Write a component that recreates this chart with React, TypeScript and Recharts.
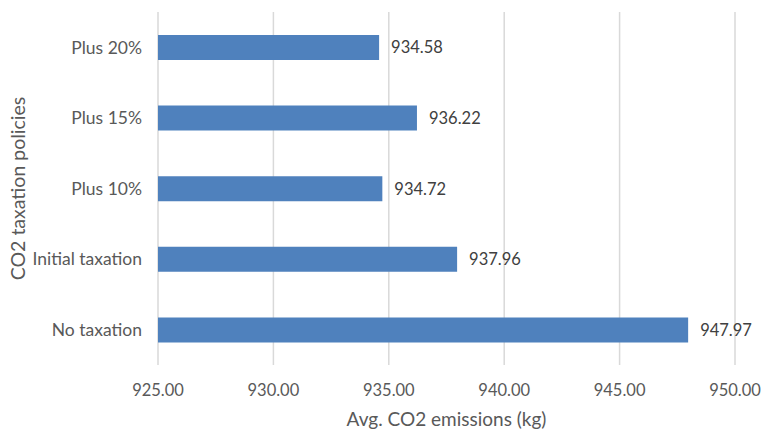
import React from "react";
import { BarChart, Bar, XAxis, YAxis, CartesianGrid, LabelList, Label } from "recharts";

const categories = ["Plus 20%", "Plus 15%", "Plus 10%", "Initial taxation", "No taxation"];
const emissions = [934.58, 936.22, 934.72, 937.96, 947.97];
const xTicks = [925, 930, 935, 940, 945, 950];

const data = categories.map((name, i) => ({ name, value: emissions[i] }));

const FONT = "Lato, 'Open Sans', sans-serif";
const TXT = "#595959";

const YTitle = (props: any) => {
  const vb = props.viewBox || {};
  const cy = (vb.y || 0) + (vb.height || 0) / 2;
  const x = 17;
  return (
    <text
      x={x}
      y={cy}
      transform={`rotate(-90, ${x}, ${cy})`}
      textAnchor="middle"
      dominantBaseline="central"
      fill={TXT}
      fontSize={19.5}
      fontFamily={FONT}
    >
      CO2 taxation policies
    </text>
  );
};

export default function App() {
  return (
    <div style={{ position: "absolute", left: 0, top: 0, width: 762, height: 430, background: "#fff" }}>
      <BarChart
        width={762}
        height={430}
        data={data}
        layout="vertical"
        margin={{ top: 12, right: 27, bottom: 0, left: 0 }}
        barSize={25}
      >
        <CartesianGrid horizontal={false} vertical={true} stroke="#d9d9d9" strokeWidth={1.5} />
        <XAxis
          type="number"
          domain={[925, 950]}
          ticks={xTicks}
          tickFormatter={(v: number) => v.toFixed(2)}
          axisLine={false}
          tickLine={false}
          tickSize={0}
          tickMargin={19}
          height={65}
          tick={{ fill: TXT, fontSize: 16.5, fontFamily: FONT }}
          interval={0}
        >
          <Label
            value="Avg. CO2 emissions (kg)"
            position="insideBottom"
            offset={4}
            fill={TXT}
            fontSize={19}
            fontFamily={FONT}
          />
        </XAxis>
        <YAxis
          type="category"
          dataKey="name"
          width={158}
          axisLine={false}
          tickLine={false}
          tickSize={0}
          tickMargin={16}
          interval={0}
          tick={{ fill: TXT, fontSize: 17.5, fontFamily: FONT }}
        >
          <Label content={<YTitle />} />
        </YAxis>
        <Bar dataKey="value" fill="#4f81bd" isAnimationActive={false}>
          <LabelList
            dataKey="value"
            position="right"
            offset={12}
            formatter={(v: any) => Number(v).toFixed(2)}
            fill="#404040"
            fontSize={16.5}
            fontFamily={FONT}
          />
        </Bar>
      </BarChart>
    </div>
  );
}
